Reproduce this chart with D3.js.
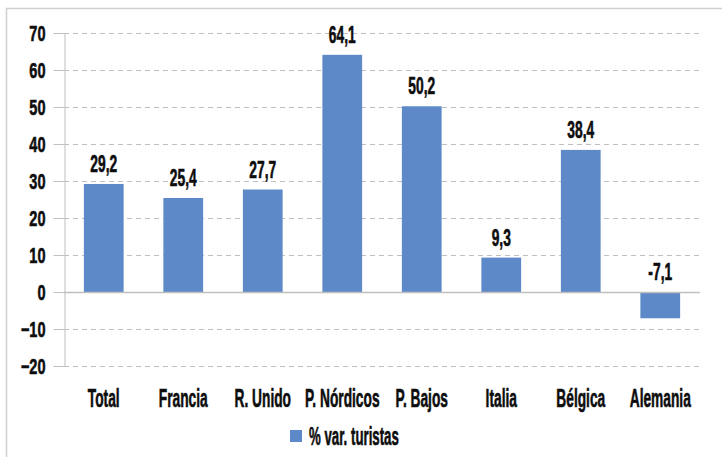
<!DOCTYPE html>
<html><head><meta charset="utf-8">
<script src="https://cdn.jsdelivr.net/npm/d3@7/dist/d3.min.js"></script>
<style>
body{margin:0;background:#fff;}
text{font-family:"Liberation Sans",Arial,sans-serif;font-weight:bold;fill:#0d0d0d;stroke:#0d0d0d;stroke-width:0.6px;}
</style></head>
<body>
<svg id="c" width="722" height="457"></svg>
<script>
const categories = ["Total","Francia","R. Unido","P. Nórdicos","P. Bajos","Italia","Bélgica","Alemania"];
const values = [29.2,25.4,27.7,64.1,50.2,9.3,38.4,-7.1];
const valueLabels = ["29,2","25,4","27,7","64,1","50,2","9,3","38,4","-7,1"];
const yTicks = [-20,-10,0,10,20,30,40,50,60,70];
const seriesName = "% var. turistas";

(function(){
const svg = d3.select("#c");
const color = "#5d89c8";
const mLeft = 64, mRight = 700, mTop = 33, mBottom = 366;
function ctext(g, x, y, s, str, size, anchor){
  return g.append("text")
    .attr("transform",`translate(${x},${y}) scale(${s},1)`)
    .attr("text-anchor",anchor||"middle").attr("font-size",size).text(str);
}

svg.append("rect").attr("x",6.5).attr("y",8.5).attr("width",730).attr("height",460)
  .attr("fill","none").attr("stroke","#d0d0d0").attr("stroke-width",1.5);

const x = d3.scaleBand().domain(categories).range([mLeft,mRight]).paddingInner(0.5).paddingOuter(0.25);
const y = d3.scaleLinear().domain([-20,70]).range([mBottom,mTop]);

svg.append("g").selectAll("line").data(yTicks).join("line")
  .attr("x1",mLeft).attr("x2",mRight)
  .attr("y1",d=>Math.round(y(d))+0.5).attr("y2",d=>Math.round(y(d))+0.5)
  .attr("stroke","#bfbfbf").attr("stroke-dasharray","5,4").attr("stroke-width",1);

svg.append("g").selectAll("rect").data(values).join("rect")
  .attr("x",(d,i)=>x(categories[i]))
  .attr("width",x.bandwidth())
  .attr("y",d=>y(Math.max(0,d)))
  .attr("height",d=>Math.abs(y(d)-y(0)))
  .attr("fill",color);

svg.append("line").attr("x1",mLeft).attr("x2",mRight)
  .attr("y1",Math.round(y(0))+0.5).attr("y2",Math.round(y(0))+0.5)
  .attr("stroke","#bfbfbf").attr("stroke-width",1.5);

const ya = svg.append("g").attr("transform",`translate(${mLeft+0.5},0)`)
  .call(d3.axisLeft(y).tickValues(yTicks).tickSize(11).tickPadding(8).tickFormat(d3.format("d")));
ya.select(".domain").attr("stroke","#bfbfbf");
ya.selectAll(".tick line").attr("stroke","#bfbfbf");
const ts = 0.66;
ya.selectAll(".tick text").attr("font-size",22).attr("fill","#0d0d0d")
  .attr("font-family","'Liberation Sans',Arial,sans-serif").attr("font-weight","bold")
  .attr("x",-19/ts).attr("dy","0.36em").attr("transform",`scale(${ts},1)`);

const gc = svg.append("g");
categories.forEach(c=>ctext(gc, x(c)+x.bandwidth()/2, 407, 0.55, c, 25));

const gv = svg.append("g");
values.forEach((v,i)=>ctext(gv, x(categories[i])+x.bandwidth()/2, (v>=0?y(v):y(0))-12, 0.6, valueLabels[i], 23));

svg.append("rect").attr("x",290).attr("y",430).attr("width",12).attr("height",12).attr("fill",color);
ctext(svg, 309, 445, 0.53, seriesName, 25, "start");
})();
</script>
</body></html>
